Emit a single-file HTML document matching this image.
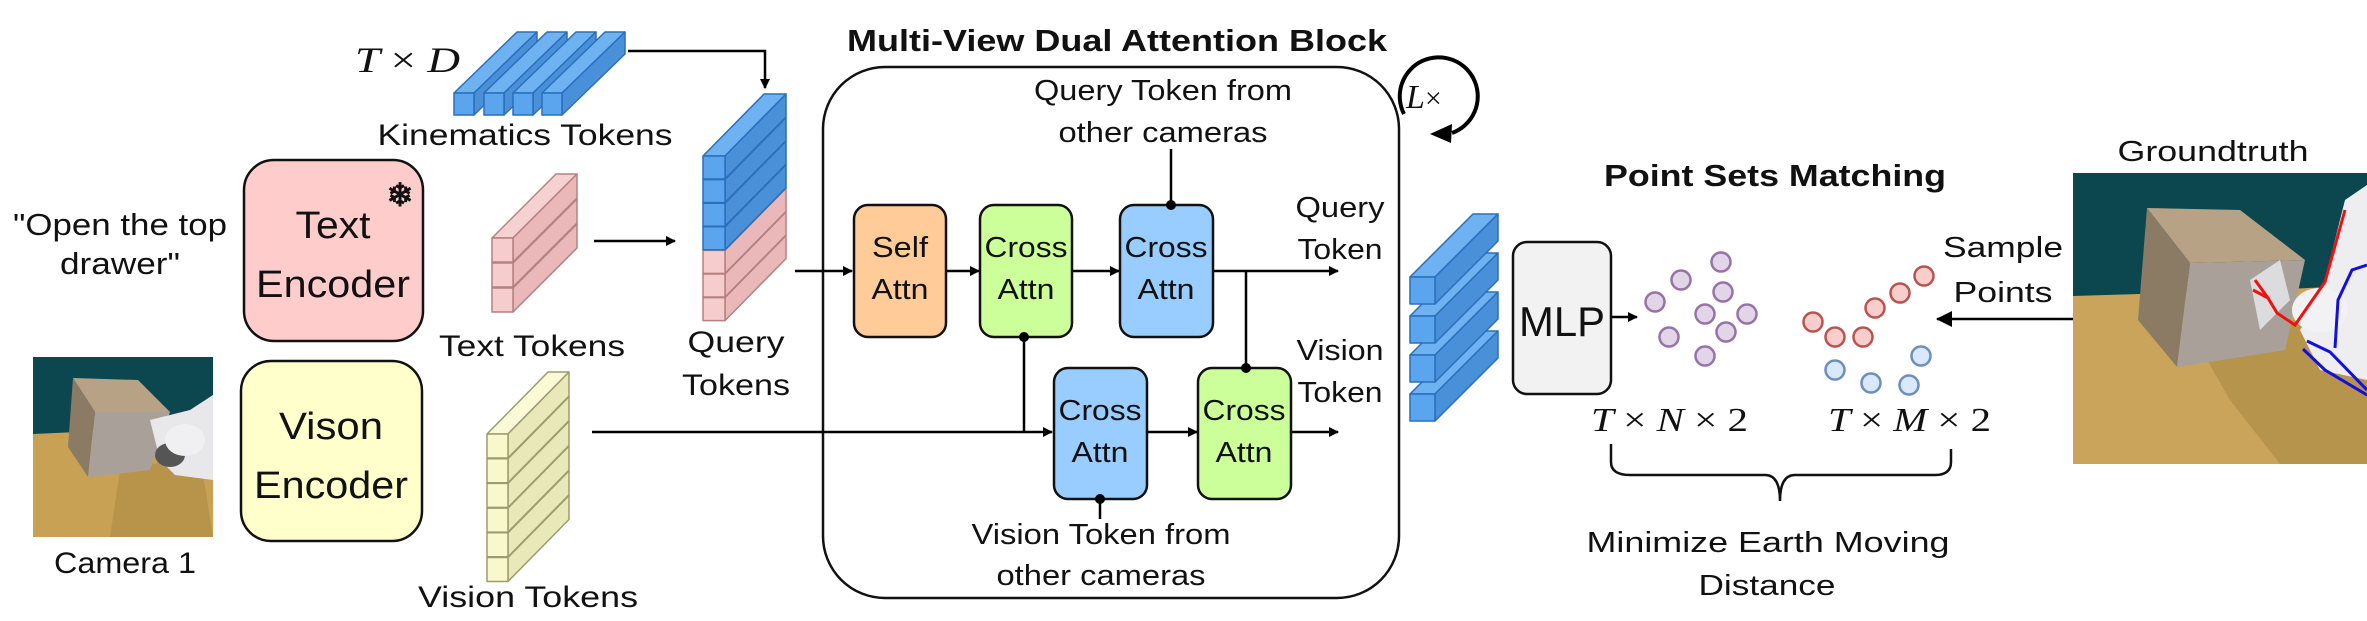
<!DOCTYPE html>
<html><head><meta charset="utf-8">
<style>
html,body{margin:0;padding:0;background:#fff;}
svg{display:block;}
text{font-family:"Liberation Sans",sans-serif;fill:#111;}
.m{font-family:"Liberation Serif",serif;font-style:italic;}
</style></head>
<body>
<svg id="s" width="2367" height="621" viewBox="0 0 2367 621" xmlns="http://www.w3.org/2000/svg">
<defs>
<marker id="ah" markerWidth="10" markerHeight="10" refX="9" refY="5" orient="auto" markerUnits="userSpaceOnUse" viewBox="0 0 10 10">
<path d="M0,0 L10,5 L0,10 z" fill="#000"/></marker>
<marker id="ah2" markerWidth="16" markerHeight="16" refX="15" refY="8" orient="auto" markerUnits="userSpaceOnUse" viewBox="0 0 16 16">
<path d="M0,0 L16,8 L0,16 z" fill="#000"/></marker>
</defs>

<!-- Camera 1 image -->
<g>
<rect x="33" y="357" width="180" height="180" fill="#c9a45a"/>
<rect x="33" y="357" width="180" height="77" fill="#0c4750"/>
<polygon points="33,434 213,426 213,537 33,537" fill="#c8a155"/>
<polygon points="120,470 200,455 213,537 110,537" fill="#a88740" opacity="0.5"/>
<polygon points="73,378 138,380 170,412 95,412" fill="#b7a285"/>
<polygon points="73,378 95,412 88,477 68,447" fill="#8c7b64"/>
<polygon points="95,412 170,412 150,470 88,477" fill="#a9a199"/>
<polygon points="150,420 190,410 213,395 213,480 175,475 160,460" fill="#e8e8ea"/>
<ellipse cx="170" cy="455" rx="15" ry="12" fill="#555"/>
<ellipse cx="185" cy="440" rx="20" ry="16" fill="#f0f0f2"/>
</g>
<text x="125" y="573" text-anchor="middle" font-size="30" textLength="142" lengthAdjust="spacingAndGlyphs">Camera 1</text>

<!-- quote -->
<text x="120" y="235" text-anchor="middle" font-size="31" textLength="214" lengthAdjust="spacingAndGlyphs">"Open the top</text>
<text x="120" y="274" text-anchor="middle" font-size="31" textLength="120" lengthAdjust="spacingAndGlyphs">drawer"</text>

<!-- encoders -->
<rect x="244" y="160" width="179" height="181" rx="30" fill="#ffcccc" stroke="#111" stroke-width="2.5"/>
<text x="333" y="238" text-anchor="middle" font-size="38" textLength="75" lengthAdjust="spacingAndGlyphs">Text</text>
<text x="333" y="297" text-anchor="middle" font-size="38" textLength="154" lengthAdjust="spacingAndGlyphs">Encoder</text>
<text x="400" y="206" text-anchor="middle" font-size="32" font-weight="bold">❄</text>
<rect x="241" y="361" width="181" height="180" rx="30" fill="#ffffcc" stroke="#111" stroke-width="2.5"/>
<text x="331" y="439" text-anchor="middle" font-size="38" textLength="104" lengthAdjust="spacingAndGlyphs">Vison</text>
<text x="331" y="498" text-anchor="middle" font-size="38" textLength="154" lengthAdjust="spacingAndGlyphs">Encoder</text>

<!-- token labels -->
<text class="m" x="355" y="72" font-size="36" textLength="105" lengthAdjust="spacingAndGlyphs">T <tspan style="font-style:normal">×</tspan> D</text>
<text x="525" y="145" text-anchor="middle" font-size="30" textLength="295" lengthAdjust="spacingAndGlyphs">Kinematics Tokens</text>
<text x="532" y="356" text-anchor="middle" font-size="30" textLength="186" lengthAdjust="spacingAndGlyphs">Text Tokens</text>
<text x="736" y="352" text-anchor="middle" font-size="30" textLength="97" lengthAdjust="spacingAndGlyphs">Query</text>
<text x="736" y="395" text-anchor="middle" font-size="30" textLength="108" lengthAdjust="spacingAndGlyphs">Tokens</text>
<text x="528" y="607" text-anchor="middle" font-size="30" textLength="220" lengthAdjust="spacingAndGlyphs">Vision Tokens</text>

<g id="cubes"></g>

<!-- arrows left -->
<polyline points="628,51 765,51 765,88" fill="none" stroke="#000" stroke-width="2.5" marker-end="url(#ah)"/>
<line x1="594" y1="241" x2="675" y2="241" stroke="#000" stroke-width="2.5" marker-end="url(#ah)"/>

<!-- main block -->
<text x="1117" y="51" text-anchor="middle" font-size="31" font-weight="bold" textLength="540" lengthAdjust="spacingAndGlyphs">Multi-View Dual Attention Block</text>
<rect x="823" y="67" width="576" height="531" rx="62" fill="none" stroke="#111" stroke-width="2.5"/>
<text x="1163" y="100" text-anchor="middle" font-size="29" textLength="258" lengthAdjust="spacingAndGlyphs">Query Token from</text>
<text x="1163" y="142" text-anchor="middle" font-size="29" textLength="209" lengthAdjust="spacingAndGlyphs">other cameras</text>
<text x="1101" y="544" text-anchor="middle" font-size="29" textLength="259" lengthAdjust="spacingAndGlyphs">Vision Token from</text>
<text x="1101" y="585" text-anchor="middle" font-size="29" textLength="209" lengthAdjust="spacingAndGlyphs">other cameras</text>
<text x="1340" y="217" text-anchor="middle" font-size="29" textLength="89" lengthAdjust="spacingAndGlyphs">Query</text>
<text x="1340" y="259" text-anchor="middle" font-size="29" textLength="85" lengthAdjust="spacingAndGlyphs">Token</text>
<text x="1340" y="360" text-anchor="middle" font-size="29" textLength="87" lengthAdjust="spacingAndGlyphs">Vision</text>
<text x="1340" y="402" text-anchor="middle" font-size="29" textLength="85" lengthAdjust="spacingAndGlyphs">Token</text>

<!-- lines inside -->
<line x1="592" y1="432" x2="1052" y2="432" stroke="#000" stroke-width="2.5" marker-end="url(#ah)"/>
<line x1="795" y1="271" x2="852" y2="271" stroke="#000" stroke-width="2.5" marker-end="url(#ah)"/>
<line x1="946" y1="271" x2="979" y2="271" stroke="#000" stroke-width="2.5" marker-end="url(#ah)"/>
<line x1="1072" y1="271" x2="1119" y2="271" stroke="#000" stroke-width="2.5" marker-end="url(#ah)"/>
<line x1="1213" y1="271" x2="1338" y2="271" stroke="#000" stroke-width="2.5" marker-end="url(#ah)"/>
<line x1="1246" y1="271" x2="1246" y2="368" stroke="#000" stroke-width="2.5"/>
<line x1="1024" y1="337" x2="1024" y2="432" stroke="#000" stroke-width="2.5"/>
<line x1="1171" y1="149" x2="1171" y2="205" stroke="#000" stroke-width="2.5"/>
<line x1="1147" y1="432" x2="1197" y2="432" stroke="#000" stroke-width="2.5" marker-end="url(#ah)"/>
<line x1="1291" y1="432" x2="1338" y2="432" stroke="#000" stroke-width="2.5" marker-end="url(#ah)"/>
<line x1="1100" y1="499" x2="1100" y2="519" stroke="#000" stroke-width="2.5"/>

<rect x="854" y="205" width="92" height="132" rx="14" fill="#ffcc99" stroke="#111" stroke-width="2.5"/>
<text x="900" y="257" text-anchor="middle" font-size="29" textLength="56" lengthAdjust="spacingAndGlyphs">Self</text>
<text x="900" y="299" text-anchor="middle" font-size="29" textLength="57" lengthAdjust="spacingAndGlyphs">Attn</text>
<rect x="980" y="205" width="92" height="132" rx="14" fill="#ccff99" stroke="#111" stroke-width="2.5"/>
<text x="1026" y="257" text-anchor="middle" font-size="29" textLength="83" lengthAdjust="spacingAndGlyphs">Cross</text>
<text x="1026" y="299" text-anchor="middle" font-size="29" textLength="57" lengthAdjust="spacingAndGlyphs">Attn</text>
<circle cx="1024" cy="337" r="5" fill="#000"/>
<rect x="1120" y="205" width="93" height="132" rx="14" fill="#99ccff" stroke="#111" stroke-width="2.5"/>
<text x="1166" y="257" text-anchor="middle" font-size="29" textLength="83" lengthAdjust="spacingAndGlyphs">Cross</text>
<text x="1166" y="299" text-anchor="middle" font-size="29" textLength="57" lengthAdjust="spacingAndGlyphs">Attn</text>
<circle cx="1171" cy="205" r="5" fill="#000"/>
<rect x="1054" y="368" width="93" height="131" rx="14" fill="#99ccff" stroke="#111" stroke-width="2.5"/>
<text x="1100" y="420" text-anchor="middle" font-size="29" textLength="83" lengthAdjust="spacingAndGlyphs">Cross</text>
<text x="1100" y="462" text-anchor="middle" font-size="29" textLength="57" lengthAdjust="spacingAndGlyphs">Attn</text>
<circle cx="1100" cy="499" r="5" fill="#000"/>
<rect x="1198" y="368" width="93" height="131" rx="14" fill="#ccff99" stroke="#111" stroke-width="2.5"/>
<text x="1244" y="420" text-anchor="middle" font-size="29" textLength="83" lengthAdjust="spacingAndGlyphs">Cross</text>
<text x="1244" y="462" text-anchor="middle" font-size="29" textLength="57" lengthAdjust="spacingAndGlyphs">Attn</text>
<circle cx="1246" cy="368" r="5" fill="#000"/>

<!-- L x loop -->
<path d="M1404,114 A39,39 0 1 1 1452,133" fill="none" stroke="#000" stroke-width="4"/>
<polygon points="1430,134 1452,124 1451,143" fill="#000"/>
<text class="m" x="1406" y="108" font-size="34">L<tspan style="font-style:normal" font-size="30">×</tspan></text>

<!-- MLP -->
<rect x="1513" y="242" width="98" height="152" rx="14" fill="#f2f2f2" stroke="#111" stroke-width="2.5"/>
<text x="1562" y="336" text-anchor="middle" font-size="42" fill="#333" textLength="86" lengthAdjust="spacingAndGlyphs">MLP</text>
<line x1="1612" y1="317" x2="1637" y2="317" stroke="#000" stroke-width="2.5" marker-end="url(#ah)"/>

<text x="1775" y="186" text-anchor="middle" font-size="31" font-weight="bold" textLength="342" lengthAdjust="spacingAndGlyphs">Point Sets Matching</text>

<g stroke-width="2.5">
<g fill="#e1d5e7" stroke="#9673a6">
<circle cx="1721" cy="262" r="9.5"/><circle cx="1681" cy="280" r="9.5"/><circle cx="1655" cy="302" r="9.5"/>
<circle cx="1723" cy="292" r="9.5"/><circle cx="1705" cy="314" r="9.5"/><circle cx="1747" cy="314" r="9.5"/>
<circle cx="1669" cy="337" r="9.5"/><circle cx="1726" cy="332" r="9.5"/><circle cx="1705" cy="356" r="9.5"/>
</g>
<g fill="#f8cecc" stroke="#b85450">
<circle cx="1924" cy="276" r="9.5"/><circle cx="1900" cy="293" r="9.5"/><circle cx="1875" cy="308" r="9.5"/>
<circle cx="1813" cy="322" r="9.5"/><circle cx="1835" cy="337" r="9.5"/><circle cx="1863" cy="337" r="9.5"/>
</g>
<g fill="#dae8fc" stroke="#6c8ebf">
<circle cx="1921" cy="356" r="9.5"/><circle cx="1835" cy="370" r="9.5"/><circle cx="1871" cy="383" r="9.5"/><circle cx="1909" cy="385" r="9.5"/>
</g>
</g>

<text class="m" x="1591" y="431" font-size="34" textLength="157" lengthAdjust="spacingAndGlyphs">T <tspan style="font-style:normal">×</tspan> N <tspan style="font-style:normal">× 2</tspan></text>
<text class="m" x="1828" y="431" font-size="34" textLength="163" lengthAdjust="spacingAndGlyphs">T <tspan style="font-style:normal">×</tspan> M <tspan style="font-style:normal">× 2</tspan></text>

<path d="M1611,444 L1611,462 Q1611,475 1630,475 L1765,475 Q1780,475 1780,501 Q1780,475 1795,475 L1935,475 Q1951,475 1951,462 L1951,449" fill="none" stroke="#111" stroke-width="2.5"/>
<text x="1768" y="552" text-anchor="middle" font-size="29" textLength="363" lengthAdjust="spacingAndGlyphs">Minimize Earth Moving</text>
<text x="1767" y="595" text-anchor="middle" font-size="29" textLength="137" lengthAdjust="spacingAndGlyphs">Distance</text>

<text x="2003" y="257" text-anchor="middle" font-size="29" textLength="120" lengthAdjust="spacingAndGlyphs">Sample</text>
<text x="2003" y="302" text-anchor="middle" font-size="29" textLength="99" lengthAdjust="spacingAndGlyphs">Points</text>
<line x1="2075" y1="319" x2="1937" y2="319" stroke="#000" stroke-width="2.5" marker-end="url(#ah2)"/>

<text x="2213" y="161" text-anchor="middle" font-size="29" textLength="191" lengthAdjust="spacingAndGlyphs">Groundtruth</text>
<!-- GT image -->
<g>
<rect x="2073" y="173" width="294" height="291" fill="#c9a45a"/>
<polygon points="2073,173 2367,173 2367,285 2270,290 2073,296" fill="#0c4750"/>
<polygon points="2190,330 2300,320 2367,380 2367,464 2280,464 2230,400" fill="#a88740" opacity="0.55"/>
<polygon points="2147,208 2240,210 2305,260 2190,263" fill="#b7a285"/>
<polygon points="2147,208 2190,263 2177,367 2138,320" fill="#8c7b64"/>
<polygon points="2190,263 2305,260 2285,350 2177,367" fill="#a9a199"/>
<polygon points="2250,280 2280,260 2290,300 2260,330" fill="#dcdcde"/>
<polygon points="2345,200 2367,185 2367,380 2320,370 2300,330 2320,300" fill="#eeeef0"/>
<ellipse cx="2320" cy="310" rx="28" ry="22" fill="#f2f2f4"/>
<polyline points="2255,280 2268,298 2277,313 2295,325 2325,282 2345,210" fill="none" stroke="#e11" stroke-width="3"/>
<polyline points="2253,290 2268,298" fill="none" stroke="#e11" stroke-width="3"/>
<polyline points="2307,341 2330,352 2367,390" fill="none" stroke="#11d" stroke-width="3"/>
<polyline points="2303,349 2325,370 2367,395" fill="none" stroke="#11d" stroke-width="3"/>
<polyline points="2335,348 2338,300 2352,270 2367,265" fill="none" stroke="#11d" stroke-width="3"/>
</g>
</svg>
<script>
(function(){
var g=document.getElementById('cubes');var ns='http://www.w3.org/2000/svg';
function poly(pts,fill,stroke){var p=document.createElementNS(ns,'polygon');p.setAttribute('points',pts.map(function(a){return a.join(',')}).join(' '));p.setAttribute('fill',fill);p.setAttribute('stroke',stroke);p.setAttribute('stroke-width','1.5');p.setAttribute('stroke-linejoin','round');g.appendChild(p);}
var C={b:['#5aa5ee','#6fb2f2','#4a90d9','#2a6fba'],p:['#f7cccc','#f4d2d2','#eab8b8','#b58080'],y:['#f8f8cc','#fafad6','#e8e8b8','#9c9c70']};
function cube(x,y,w,h,dx,dy,c){var k=C[c];
poly([[x,y],[x+dx,y-dy],[x+w+dx,y-dy],[x+w,y]],k[1],k[3]);
poly([[x+w,y],[x+w+dx,y-dy],[x+w+dx,y+h-dy],[x+w,y+h]],k[2],k[3]);
poly([[x,y],[x+w,y],[x+w,y+h],[x,y+h]],k[0],k[3]);}
[454,484,513,542].forEach(function(x){cube(x,93,20,22,63,61,'b');});
for(var i=2;i>=0;i--)cube(492,238+i*25,21,24,64,64,'p');
for(var i=6;i>=0;i--)cube(703,156+i*23.6,22,23,61,62,i<4?'b':'p');
for(var i=5;i>=0;i--)cube(487,434+i*24.7,21,24,61,62,'y');
for(var i=3;i>=0;i--)cube(1410,277+i*39,25,27,63,63,'b');
})();
</script>
</body></html>
